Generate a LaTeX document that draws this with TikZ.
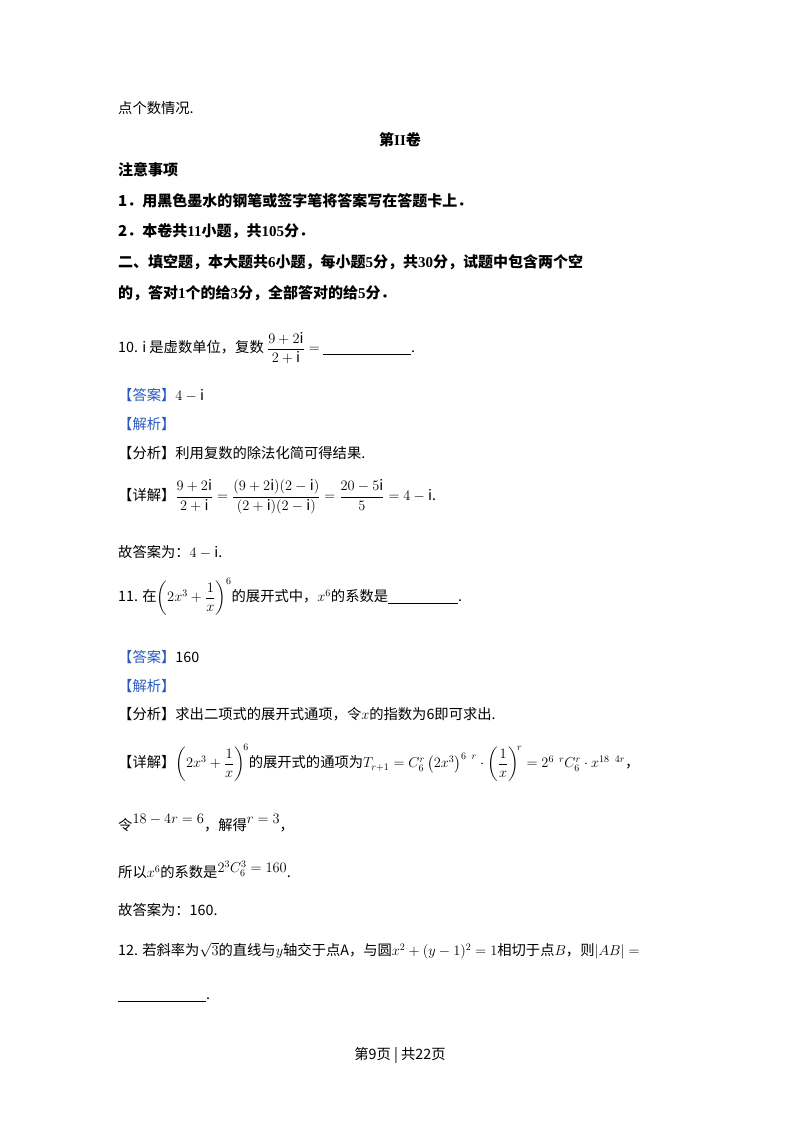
\documentclass[tikz,border=0pt]{standalone}
\usepackage{amsmath}
\usepackage{fontspec}
\setmainfont{Noto Sans CJK SC}
\newfontfamily\tnr{Liberation Serif}
\definecolor{ansblue}{RGB}{40,90,190}
\begin{document}
\begin{tikzpicture}[x=1pt,y=-1pt,
  txt/.style={anchor=west,inner sep=0pt,font=\fontsize{14.3}{17}\selectfont},
  bld/.style={txt,font=\fontsize{15}{17}\selectfont\bfseries}]
\useasboundingbox[fill=white] (0,0) rectangle (800,1132);
\node[txt] (l0) at (118,108) {点个数情况.};
\node[bld,anchor=center] (t) at (400,140) {第{\tnr\bfseries II}卷};
\node[bld] (l1) at (118,170) {注意事项};
\node[bld] (l2) at (118,201) {1．用黑色墨水的钢笔或签字笔将答案写在答题卡上．};
\node[bld] (l3) at (118,231) {2．本卷共{\tnr\bfseries 11}小题，共{\tnr\bfseries 105}分．};
\node[bld] (l4) at (118,262) {二、填空题，本大题共{\tnr\bfseries 6}小题，每小题{\tnr\bfseries 5}分，共{\tnr\bfseries 30}分，试题中包含两个空};
\node[bld] (l5) at (118,293) {的，答对{\tnr\bfseries 1}个的给{\tnr\bfseries 3}分，全部答对的给{\tnr\bfseries 5}分．};
\node[txt] (q10) at (118,348) {10. $\mathrm{i}$ 是虚数单位，复数 $\dfrac{9+2\mathrm{i}}{2+\mathrm{i}}=$ \rule[-2pt]{88pt}{0.5pt}.};
\node[txt] (a10) at (118,395) {\textcolor{ansblue}{【答案】}$4-\mathrm{i}$};
\node[txt] (j10) at (118,424) {\textcolor{ansblue}{【解析】}};
\node[txt] (f10) at (118,453) {【分析】利用复数的除法化简可得结果.};
\node[txt] (d10) at (118,497) {【详解】$\dfrac{9+2\mathrm{i}}{2+\mathrm{i}}=\dfrac{(9+2\mathrm{i})(2-\mathrm{i})}{(2+\mathrm{i})(2-\mathrm{i})}=\dfrac{20-5\mathrm{i}}{5}=4-\mathrm{i}$.};
\node[txt] (g10) at (118,552) {故答案为：$4-\mathrm{i}$.};
\node[txt] (q11) at (118,597) {11. 在$\left(2x^3+\dfrac{1}{x}\right)^6$的展开式中，$x^6$的系数是\rule[-2pt]{70pt}{0.5pt}.};
\node[txt] (a11) at (118,657) {\textcolor{ansblue}{【答案】}160};
\node[txt] (j11) at (118,686) {\textcolor{ansblue}{【解析】}};
\node[txt] (f11) at (118,714) {【分析】求出二项式的展开式通项，令$x$的指数为6即可求出.};
\node[txt] (d11) at (118,763) {【详解】$\left(2x^3+\dfrac{1}{x}\right)^{\!6}$的展开式的通项为$T_{r+1}=C_6^r\left(2x^3\right)^{6\;\;r}\cdot\left(\dfrac{1}{x}\right)^{\!r}=2^{6\;\;r}C_6^r\cdot x^{18\;\;4r}$，};
\node[txt] (s11) at (118,823) {令\raisebox{7pt}{$18-4r=6$}，解得\raisebox{7pt}{$r=3$}，};
\node[txt] (c11) at (118,870) {所以$x^6$的系数是\raisebox{5pt}{$2^3C_6^3=160$}.};
\node[txt] (g11) at (118,910) {故答案为：160.};
\node[txt] (q12) at (118,951) {12. 若斜率为$\sqrt3$的直线与$y$轴交于点A，与圆$x^2+(y-1)^2=1$相切于点$B$，则$|AB|=$};
\node[txt] (b12) at (118,1000) {\rule[-2pt]{88pt}{0.5pt}.};
\node[txt,anchor=center] (pg) at (400,1055) {第9页 | 共22页};
\end{tikzpicture}
\end{document}
